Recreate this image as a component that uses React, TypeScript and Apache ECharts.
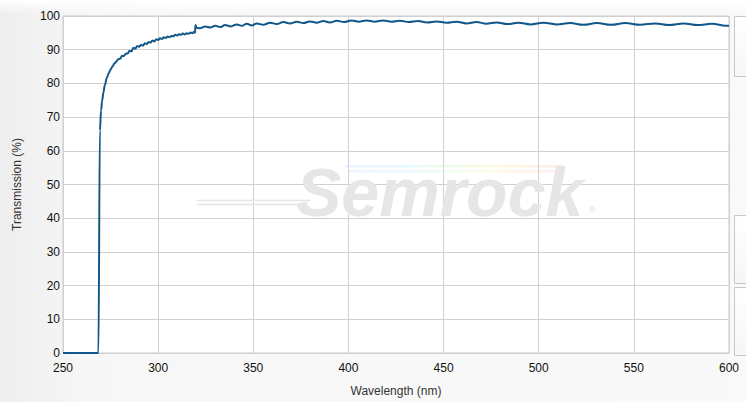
import React, { useEffect, useRef } from "react";
import * as echarts from "echarts";

// Wavelength (nm) and transmission (%)
const wavelengths: number[] = [
  250, 268.6, 269.4, 270.0, 270.6, 271.2, 272, 273, 274, 275, 276,
  277, 278, 279, 280, 281, 282, 283, 284, 285, 286, 287, 288, 289, 290, 291, 292,
  293, 294, 295, 296, 297, 298, 299, 300, 301, 302, 303, 304, 305, 306, 307, 308,
  309, 310, 311, 312, 313, 314, 315, 316, 317, 318, 319, 319.4, 319.6, 320.2,
  322.0, 324.7, 327.4, 330.0, 332.6, 335.2, 338.2, 341.3, 344.0, 346.6, 349.2,
  351.8, 355.3, 358.8, 362.3, 365.8, 369.3, 372.8, 376.3, 379.8, 383.3, 386.8,
  390.3, 393.9, 397.7, 401.6, 405.5, 409.5, 413.8, 418.2, 422.6, 427.0, 431.8,
  436.6, 441.4, 446.3, 451.5, 456.8, 462.0, 467.3, 472.5, 477.8, 483.5, 489.2,
  495.8, 502.5, 509.5, 516.5, 523.5, 530.6, 538.0, 545.5, 553.3, 561.2, 568.6,
  576.1, 583.5, 591.0, 598.5, 600,
];
const transmission: number[] = [
  0, 0, 66, 72, 75, 77.2, 79.5, 81.6, 83.0, 84.1, 85.0,
  85.9, 86.4, 87.2, 87.3, 88.2, 88.1, 88.8, 88.9, 89.7, 89.5, 90.6, 90.3, 91.1, 90.9, 91.5, 91.2,
  91.9, 91.7, 92.3, 92.1, 92.7, 92.4, 93.1, 92.9, 93.4, 93.2, 93.7, 93.5, 93.9, 93.7, 94.1, 94.0,
  94.4, 94.2, 94.6, 94.4, 94.8, 94.5, 94.9, 94.7, 95.1, 94.9, 95.3, 95.0, 97.3, 96.5,
  96.4, 96.9, 96.6, 97.1, 96.7, 97.3, 96.9, 97.5, 97.1, 97.7, 97.2,
  97.8, 97.4, 98.0, 97.6, 98.2, 97.8, 98.3, 97.9, 98.4, 98.0, 98.5,
  98.1, 98.6, 98.2, 98.7, 98.3, 98.7, 98.3, 98.7, 98.3, 98.6, 98.2,
  98.5, 98.1, 98.4, 98.0, 98.3, 97.8, 98.2, 97.7, 98.1, 97.6, 98.0,
  97.5, 98.0, 97.5, 97.9, 97.4, 97.9, 97.4, 97.9, 97.4, 97.8, 97.3,
  97.8, 97.3, 97.7, 97.1, 97.1,
];

const xTicks = { min: 250, max: 600, interval: 50 };
const yTicks = { min: 0, max: 100, interval: 10 };

export default function App() {
  const ref = useRef<HTMLDivElement>(null);
  useEffect(() => {
    if (!ref.current) return;
    const chart = echarts.init(ref.current, undefined, { renderer: "svg" });
    const data = wavelengths.map((w, i) => [w, transmission[i]]);
    const font = "Liberation Sans, Arial, sans-serif";
    const box = (y: number, h: number) => ({
      type: "rect",
      z: 0,
      shape: { x: 734.5, y: y + 0.5, width: 20, height: h },
      style: {
        fill: {
          type: "linear", x: 0, y: 0, x2: 0, y2: 1,
          colorStops: [
            { offset: 0, color: "#ffffff" },
            { offset: 1, color: "#f6f6f6" },
          ],
        },
        stroke: "#c8c8c8",
        lineWidth: 1,
      },
      silent: true,
    });
    const rainbow = {
      type: "linear", x: 0, y: 0, x2: 1, y2: 0, colorStops: [
        { offset: 0, color: "#c8d8ff" }, { offset: 0.3, color: "#b8f0ff" }, { offset: 0.5, color: "#c8ffc0" },
        { offset: 0.7, color: "#fff0a8" }, { offset: 1, color: "#ffc0c0" }],
    };
    chart.setOption({
      animation: false,
      backgroundColor: {
        type: "linear", x: 0, y: 0, x2: 1, y2: 0,
        colorStops: [
          { offset: 0, color: "#eeeeee" },
          { offset: 0.12, color: "#f7f7f7" },
          { offset: 1, color: "#f9f9f9" },
        ],
      },
      grid: {
        left: 63, right: 17, top: 16, bottom: 47,
        show: true, backgroundColor: "#ffffff", borderColor: "#cccccc", borderWidth: 1,
      },
      xAxis: {
        type: "value",
        ...xTicks,
        name: "Wavelength (nm)",
        nameLocation: "middle",
        nameGap: 32,
        nameTextStyle: { color: "#333", fontFamily: font, fontSize: 12 },
        axisLine: { show: false },
        axisTick: { show: false },
        axisLabel: { color: "#111", fontFamily: font, fontSize: 12, margin: 9 },
        splitLine: { lineStyle: { color: "#d0d0d0", width: 1 } },
      },
      yAxis: {
        type: "value",
        ...yTicks,
        name: "Transmission (%)",
        nameLocation: "middle",
        nameGap: 40,
        nameRotate: 90,
        nameTextStyle: { color: "#333", fontFamily: font, fontSize: 12 },
        axisLine: { show: false },
        axisTick: { show: false },
        axisLabel: { color: "#111", fontFamily: font, fontSize: 12, margin: 3 },
        splitLine: { lineStyle: { color: "#d0d0d0", width: 1 } },
      },
      graphic: [
        { type: "rect", z: -1, silent: true, shape: { x: 0, y: 0, width: 746, height: 14 },
          style: { fill: { type: "linear", x: 0, y: 0, x2: 0, y2: 1, colorStops: [{ offset: 0, color: "#ffffff" }, { offset: 1, color: "#ffffff00" }] } } },
        box(16, 60),
        box(215, 68),
        box(287, 68),
        { type: "line", silent: true, z: 1, shape: { x1: 197, y1: 200.5, x2: 310, y2: 200.5 }, style: { stroke: "#e4e4e4", lineWidth: 1.5 } },
        { type: "line", silent: true, z: 1, shape: { x1: 197, y1: 204.5, x2: 305, y2: 204.5 }, style: { stroke: "#e4e4e4", lineWidth: 1.5 } },
        { type: "rect", silent: true, z: 1, shape: { x: 345, y: 165, width: 218, height: 2.5 },
          style: { opacity: 0.35, fill: rainbow } },
        { type: "rect", silent: true, z: 1, shape: { x: 348, y: 170, width: 210, height: 2.5 },
          style: { opacity: 0.3, fill: rainbow } },
        { type: "text", silent: true, z: 1, x: 296, y: 192,
          style: { text: "Semrock", fill: "#e6e6e6", font: "italic bold 68px Liberation Sans, Arial, sans-serif",
            textAlign: "left", textVerticalAlign: "middle" } },
        { type: "text", silent: true, z: 1, x: 589, y: 210,
          style: { text: "®", fill: "#e0e0e0", font: "9px Liberation Sans, Arial, sans-serif",
            textAlign: "left", textVerticalAlign: "middle" } },
      ],
      series: [
        {
          type: "line",
          data,
          showSymbol: false,
          smooth: 0.4,
          smoothMonotone: "x",
          lineStyle: { color: "#12578a", width: 2 },
          z: 3,
        },
      ],
    });
    return () => chart.dispose();
  }, []);
  return (
    <div
      ref={ref}
      style={{ position: "fixed", left: 0, top: 0, width: 746, height: 402 }}
    />
  );
}
